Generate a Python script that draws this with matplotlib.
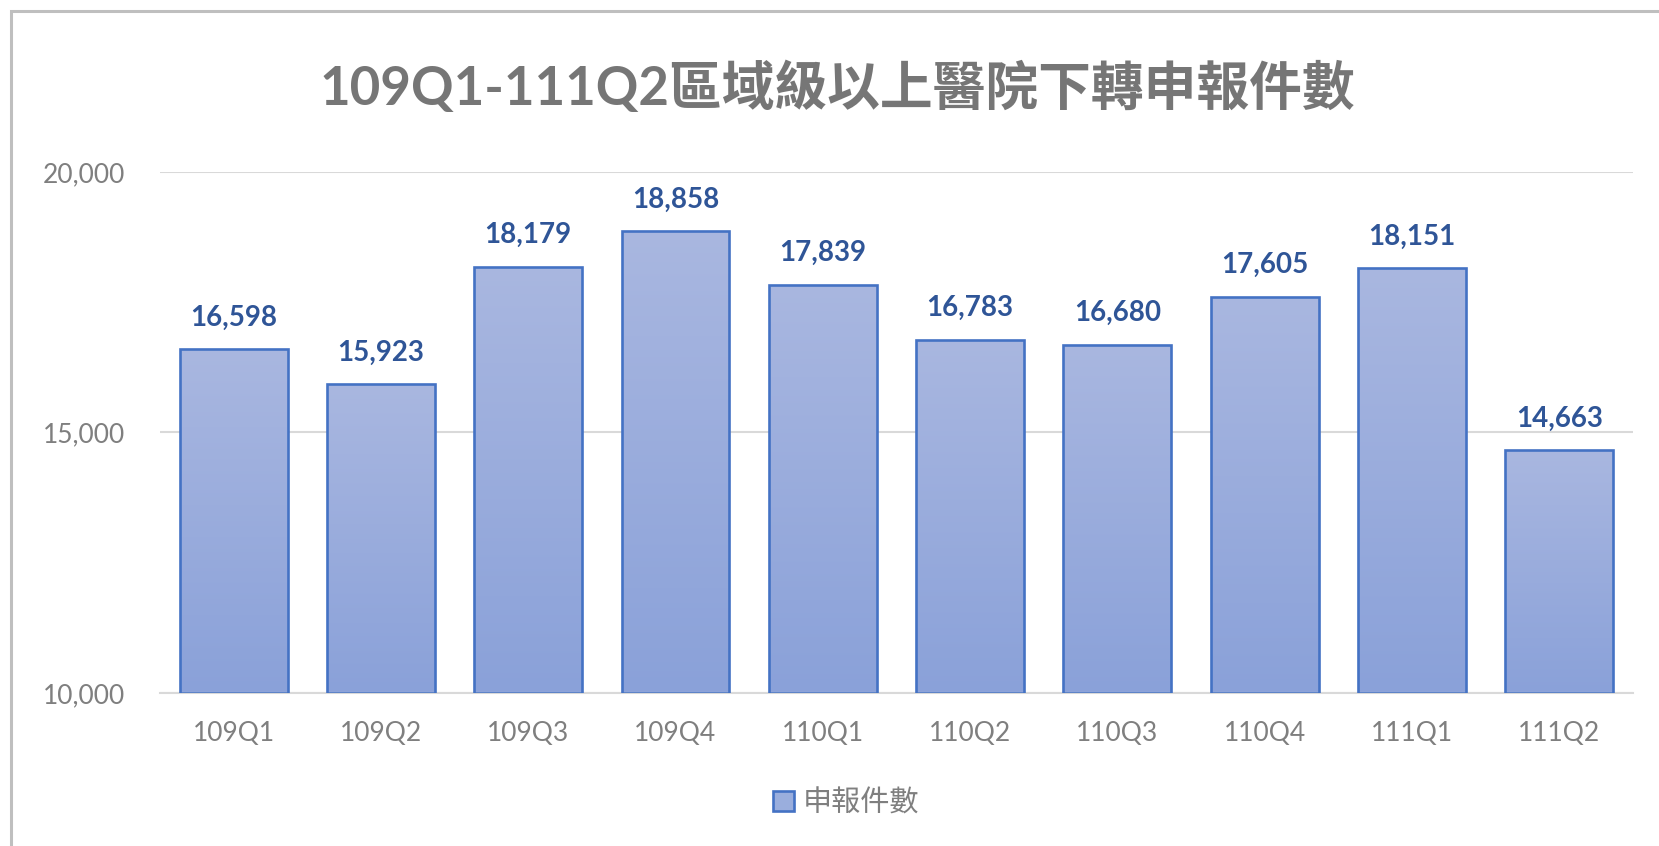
import numpy as np
import matplotlib
matplotlib.use("Agg")
import matplotlib.pyplot as plt
from matplotlib.patches import Patch, Rectangle
from matplotlib.colors import LinearSegmentedColormap
from matplotlib.ticker import FuncFormatter, MultipleLocator

quarters = ["109Q1", "109Q2", "109Q3", "109Q4", "110Q1",
            "110Q2", "110Q3", "110Q4", "111Q1", "111Q2"]
counts = [16598, 15923, 18179, 18858, 17839, 16783, 16680, 17605, 18151, 14663]
series_name = "申報件數"
title = "109Q1-111Q2區域級以上醫院下轉申報件數"

plt.rcParams["font.family"] = ["Lato", "Noto Sans CJK TC", "DejaVu Sans"]

edge = "#4472C4"
top_c = "#A9B7E0"
bot_c = "#8AA1D9"
label_c = "#2F5597"
grey_txt = "#7F7F7F"
grid_c = "#D9D9D9"

fig = plt.figure(figsize=(16.59, 8.46), dpi=100)
ax = fig.add_axes([0.0964, 0.1809, 0.8879, 0.6158])

x = np.arange(len(quarters))
ymin, ymax = 10000, 20000
width = 0.733

bars = ax.bar(x, [c - ymin for c in counts], width, bottom=ymin,
              facecolor="none", edgecolor=edge, linewidth=1.9, zorder=3)

# vertical gradient in each bar
cmap = LinearSegmentedColormap.from_list("g", [bot_c, top_c])
grad = np.linspace(0, 1, 256).reshape(-1, 1)
for b, v in zip(bars, counts):
    x0 = b.get_x()
    im = ax.imshow(grad, cmap=cmap, origin="lower", aspect="auto",
                   extent=(x0, x0 + width, ymin, v), zorder=2)
    im.set_clip_path(b)

for xi, v in zip(x, counts):
    ax.annotate(f"{v:,}", (xi, v), xytext=(0, 17), textcoords="offset points",
                ha="center", va="baseline", fontsize=20, fontweight="bold",
                color=label_c)

ax.set_xlim(-0.5, len(quarters) - 0.5)
ax.set_ylim(ymin, ymax)
ax.yaxis.set_major_locator(MultipleLocator(5000))
ax.yaxis.set_major_formatter(FuncFormatter(lambda v, p: f"{int(v):,}"))
ax.set_xticks(x)
ax.set_xticklabels(quarters)
ax.grid(axis="y", color=grid_c, linewidth=1.5, zorder=0)
ax.set_axisbelow(True)
for s in ["top", "right", "left"]:
    ax.spines[s].set_visible(False)
ax.spines["bottom"].set_color(grid_c)
ax.spines["bottom"].set_linewidth(1.5)
ax.tick_params(axis="both", length=0, labelsize=19, labelcolor=grey_txt)
ax.tick_params(axis="y", pad=25)
ax.tick_params(axis="x", pad=20)

fig.text(0.505, 0.896, title, ha="center", va="center", fontsize=38,
         fontweight="bold", color="#767676")

handle = Patch(facecolor="#9AAEDD", edgecolor=edge, linewidth=1.9)
fig.legend([handle], [series_name], loc="center", bbox_to_anchor=(0.51, 0.051),
           frameon=False, fontsize=21, handlelength=0.7, handleheight=0.7,
           handletextpad=0.3, labelcolor=grey_txt)

# chart frame (only left and top edges visible in the crop)
fig.add_artist(Rectangle((0.0066, -0.1), 1.2, 1.087, transform=fig.transFigure,
                         fill=False, edgecolor="#BFBFBF", linewidth=2.2))

fig.savefig("out.png", dpi=100, facecolor="white")
